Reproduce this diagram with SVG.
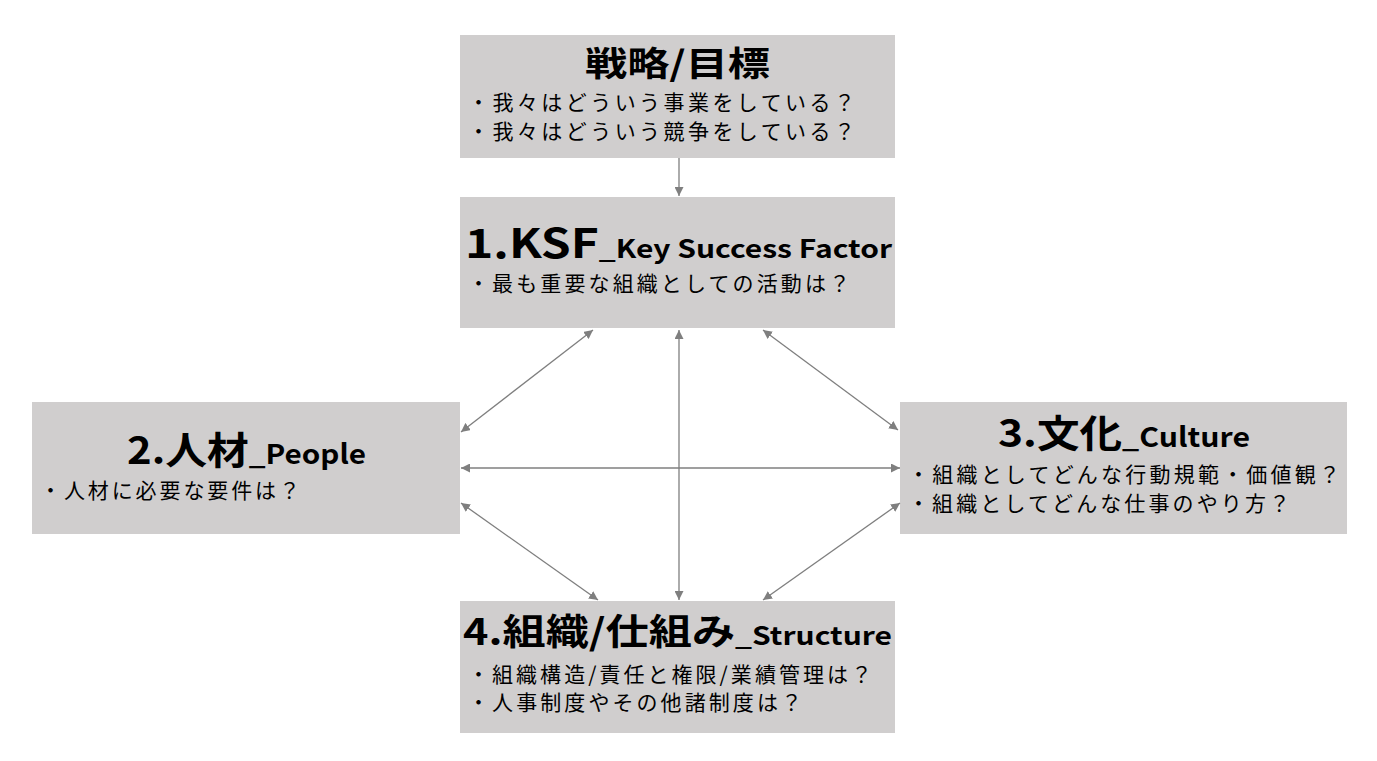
<svg xmlns="http://www.w3.org/2000/svg" width="1377" height="761" viewBox="0 0 1377 761">
<style>
.box{fill:#d0cece}
.t{font-family:"Noto Sans CJK JP","Liberation Sans",sans-serif;font-weight:bold;fill:#000}
.b{font-family:"Noto Sans CJK JP","Liberation Sans",sans-serif;font-size:21px;fill:#000}
.c line{stroke:#7f7f7f;stroke-width:1.3;marker-end:url(#a)}
.c line.d{marker-start:url(#a)}
</style>
<defs><marker id="a" viewBox="0 0 10 10" refX="10" refY="5" markerWidth="9" markerHeight="9" orient="auto-start-reverse" markerUnits="userSpaceOnUse"><path d="M0,0L10,5L0,10z" fill="#7f7f7f"/></marker></defs>
<rect width="1377" height="761" fill="#fff"/>
<g id="goal"><rect class="box" x="460" y="35" width="435" height="123"/>
<text class="t" x="585" y="76" font-size="34" textLength="185" lengthAdjust="spacingAndGlyphs">戦略/目標</text>
<text class="b" x="468" y="110" textLength="387">・我々はどういう事業をしている？</text>
<text class="b" x="468" y="139" textLength="387">・我々はどういう競争をしている？</text></g>
<g id="ksf"><rect class="box" x="460" y="197" width="435" height="131"/>
<text class="t" x="465" y="258" textLength="427" lengthAdjust="spacingAndGlyphs"><tspan font-size="40">1.KSF</tspan><tspan font-size="25">_Key Success Factor</tspan></text>
<text class="b" x="468" y="291" textLength="382">・最も重要な組織としての活動は？</text></g>
<g id="people"><rect class="box" x="32" y="402" width="428" height="132"/>
<text class="t" x="127" y="464" textLength="239" lengthAdjust="spacingAndGlyphs"><tspan font-size="38">2.人材</tspan><tspan font-size="27">_People</tspan></text>
<text class="b" x="40" y="498" textLength="260">・人材に必要な要件は？</text></g>
<g id="culture"><rect class="box" x="900" y="402" width="447" height="132"/>
<text class="t" x="998" y="447" textLength="252" lengthAdjust="spacingAndGlyphs"><tspan font-size="38">3.文化</tspan><tspan font-size="27">_Culture</tspan></text>
<text class="b" x="908" y="482" textLength="432">・組織としてどんな行動規範・価値観？</text>
<text class="b" x="908" y="511" textLength="382">・組織としてどんな仕事のやり方？</text></g>
<g id="structure"><rect class="box" x="460" y="601" width="435" height="132"/>
<text class="t" x="463" y="645" textLength="429" lengthAdjust="spacingAndGlyphs"><tspan font-size="36">4.組織/仕組み</tspan><tspan font-size="25">_Structure</tspan></text>
<text class="b" x="468" y="682" textLength="404">・組織構造/責任と権限/業績管理は？</text>
<text class="b" x="468" y="710" textLength="334">・人事制度やその他諸制度は？</text></g>
<g class="c" id="connectors">
<line x1="679" y1="158" x2="679" y2="196"/>
<line class="d" x1="593" y1="330" x2="461" y2="432"/>
<line class="d" x1="679" y1="330" x2="679" y2="600"/>
<line class="d" x1="763" y1="330" x2="898" y2="430"/>
<line class="d" x1="461" y1="468" x2="900" y2="468"/>
<line class="d" x1="461" y1="503" x2="598" y2="600"/>
<line class="d" x1="900" y1="503" x2="763" y2="600"/>
</g>
</svg>
